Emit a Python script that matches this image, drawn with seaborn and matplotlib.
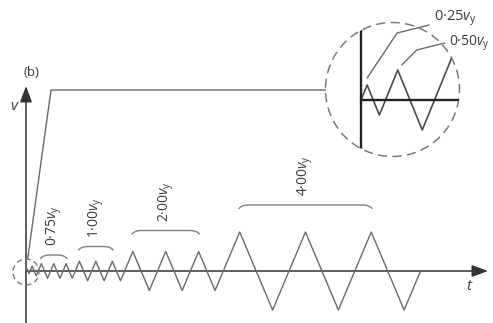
import numpy as np
import pandas as pd
import matplotlib
matplotlib.use("Agg")
import matplotlib.pyplot as plt
import seaborn as sns
from matplotlib.patches import Circle, PathPatch, FancyArrowPatch
from matplotlib.path import Path
from matplotlib.lines import Line2D
from matplotlib.transforms import IdentityTransform

# Cyclic loading protocol: amplitude levels (multiples of v_y) and cycles per level
amplitude_levels = [0.25, 0.50, 0.75, 1.00, 2.00, 4.00]
cycles_per_level = [1, 1, 3, 3, 3, 3]
level_labels = ["0·25", "0·50", "0·75", "1·00", "2·00", "4·00"]

# Reversal points of the history, starting and ending at zero
v_points = [0.0]
for amp, n in zip(amplitude_levels, cycles_per_level):
    for _ in range(n):
        v_points += [amp, -amp]
v_points.append(0.0)
# applied at a constant rate, so time advances with the travelled amplitude
t_points = np.concatenate([[0.0], np.cumsum(np.abs(np.diff(v_points)))])
history = pd.DataFrame({"t": t_points, "v": v_points})

# ---- layout (pixels) ----
W, H = 493, 323
ORIGIN = (26, 52)          # origin of the main plot, from bottom-left
SX, SY = 4.11, 9.75        # px per time unit / px per v_y
INSET_C, INSET_R = (392.5, 233.5), 67
INSET_ORIGIN = (361, 223)
ISX, ISY = 24.5, 60.0

LINE = "#6a6a6a"
AXIS = "#333333"
TEXT = "#3a3a3a"
DASH = "#7a7a7a"

sns.set_theme(style="white")
plt.rcParams["font.family"] = ["Open Sans", "DejaVu Sans"]
plt.rcParams["mathtext.fontset"] = "custom"
plt.rcParams["mathtext.rm"] = "Open Sans"
plt.rcParams["mathtext.it"] = "Open Sans:italic"

fig = plt.figure(figsize=(W / 100, H / 100), dpi=100)
ax = fig.add_axes([0, 0, 1, 1])
ax.set_axis_off()
ax.set_xlim(-ORIGIN[0] / SX, (W - ORIGIN[0]) / SX)
ax.set_ylim(-ORIGIN[1] / SY, (H - ORIGIN[1]) / SY)

sns.lineplot(data=history, x="t", y="v", sort=False, estimator=None,
             color=LINE, lw=1.0, ax=ax)

def px2data(px, py):
    return ((px - ORIGIN[0]) / SX, (py - ORIGIN[1]) / SY)

# axes with arrowheads
for start, end in [((26, 52), (488, 52)), ((26, 0), (26, 237))]:
    ax.add_patch(FancyArrowPatch(px2data(*start), px2data(*end),
                                 arrowstyle="-|>,head_length=0.75,head_width=0.28",
                                 mutation_scale=13, color=AXIS, lw=1.1,
                                 shrinkA=0, shrinkB=0))

fig.text(470 / W, 36 / H, "$t$", fontsize=11, color=TEXT, ha="center", va="center")
fig.text(15 / W, 217 / H, "$v$", fontsize=11, color=TEXT, ha="center", va="center")
fig.text(31 / W, 250 / H, "(b)", fontsize=9.5, color=TEXT, ha="center", va="center")

# small dashed circle around the origin and its leader to the enlarged view
ox, oy = ax.transData.transform((0, 0))
ax.add_patch(Circle((ox, oy - 1), 13, transform=IdentityTransform(), fill=False,
                    ec=DASH, lw=1.0, ls=(0, (4, 2.5))))
corner = (51, 233)
d = np.array(corner) - np.array([ox, oy])
start = np.array([ox, oy]) + d / np.linalg.norm(d) * 12
ax.add_line(Line2D([start[0], corner[0], INSET_C[0] - INSET_R],
                   [start[1], corner[1], corner[1]],
                   transform=IdentityTransform(), color=LINE, lw=1.0))

# brackets and labels over each group of three cycles
bracket_height = {2: 16, 3: 24.5, 4: 40.5, 5: 66}
idx = 1
for k, (amp, n) in enumerate(zip(amplitude_levels, cycles_per_level)):
    if k in bracket_height:
        x0 = ax.transData.transform((t_points[idx], 0))[0]
        x1 = ax.transData.transform((t_points[idx + 2 * (n - 1)], 0))[0]
        y = oy + bracket_height[k]
        verts = [(x0 - 1, y - 4), (x0 + 1, y), (x0 + 9, y), (x1 - 9, y),
                 (x1 - 1, y), (x1 + 1, y - 4)]
        codes = [Path.MOVETO, Path.CURVE3, Path.CURVE3, Path.LINETO,
                 Path.CURVE3, Path.CURVE3]
        ax.add_patch(PathPatch(Path(verts, codes), transform=IdentityTransform(),
                               fill=False, ec="#808080", lw=1.0))
        ax.text((x0 + x1) / 2, y + 9, level_labels[k] + r"$v_\mathrm{y}$",
                transform=IdentityTransform(), rotation=90, ha="center",
                va="bottom", fontsize=10, color=TEXT)
    idx += 2 * n

# enlarged view of the first cycles
ins = fig.add_axes([(INSET_C[0] - INSET_R) / W, (INSET_C[1] - INSET_R) / H,
                    2 * INSET_R / W, 2 * INSET_R / H])
ins.set_axis_off()
ins.patch.set_alpha(0)
ix0 = INSET_C[0] - INSET_R
iy0 = INSET_C[1] - INSET_R
ins.set_xlim(-(INSET_ORIGIN[0] - ix0) / ISX, (2 * INSET_R - (INSET_ORIGIN[0] - ix0)) / ISX)
ins.set_ylim(-(INSET_ORIGIN[1] - iy0) / ISY, (2 * INSET_R - (INSET_ORIGIN[1] - iy0)) / ISY)
clip = Circle((0.5, 0.5), 0.5, transform=ins.transAxes, fill=False, lw=0)
ins.add_patch(clip)
sns.lineplot(data=history, x="t", y="v", sort=False, estimator=None,
             color="#4a4a4a", lw=1.2, ax=ins)
ins.plot([0, 0], list(ins.get_ylim()), color="#222222", lw=1.7)
ins.plot([0, ins.get_xlim()[1]], [0, 0], color="#222222", lw=1.7)
for ln in ins.get_lines():
    ln.set_clip_path(clip)
ins.add_patch(Circle((0.5, 0.5), 0.5, transform=ins.transAxes, fill=False,
                     ec=DASH, lw=1.1, ls=(0, (6, 3.5)), clip_on=False))

# labelled leaders to the first two peaks
leaders = [
    (1, [(0, 7), (30, 52), (62, 60)], (67, 67), 10.5),
    (3, [(4, 5), (19, 20), (47, 27)], (51, 27), 10),
]
for (i, offsets, text_off, fs), lab in zip(leaders, [level_labels[0], level_labels[1]]):
    px, py = ins.transData.transform((t_points[i], v_points[i]))
    ax.add_line(Line2D([px + dx for dx, _ in offsets], [py + dy for _, dy in offsets],
                       transform=IdentityTransform(), color=LINE, lw=1.0))
    ax.text(px + text_off[0], py + text_off[1], lab + r"$v_\mathrm{y}$",
            transform=IdentityTransform(), ha="left", va="center",
            fontsize=fs, color=TEXT)

fig.savefig("out.png", dpi=100)
